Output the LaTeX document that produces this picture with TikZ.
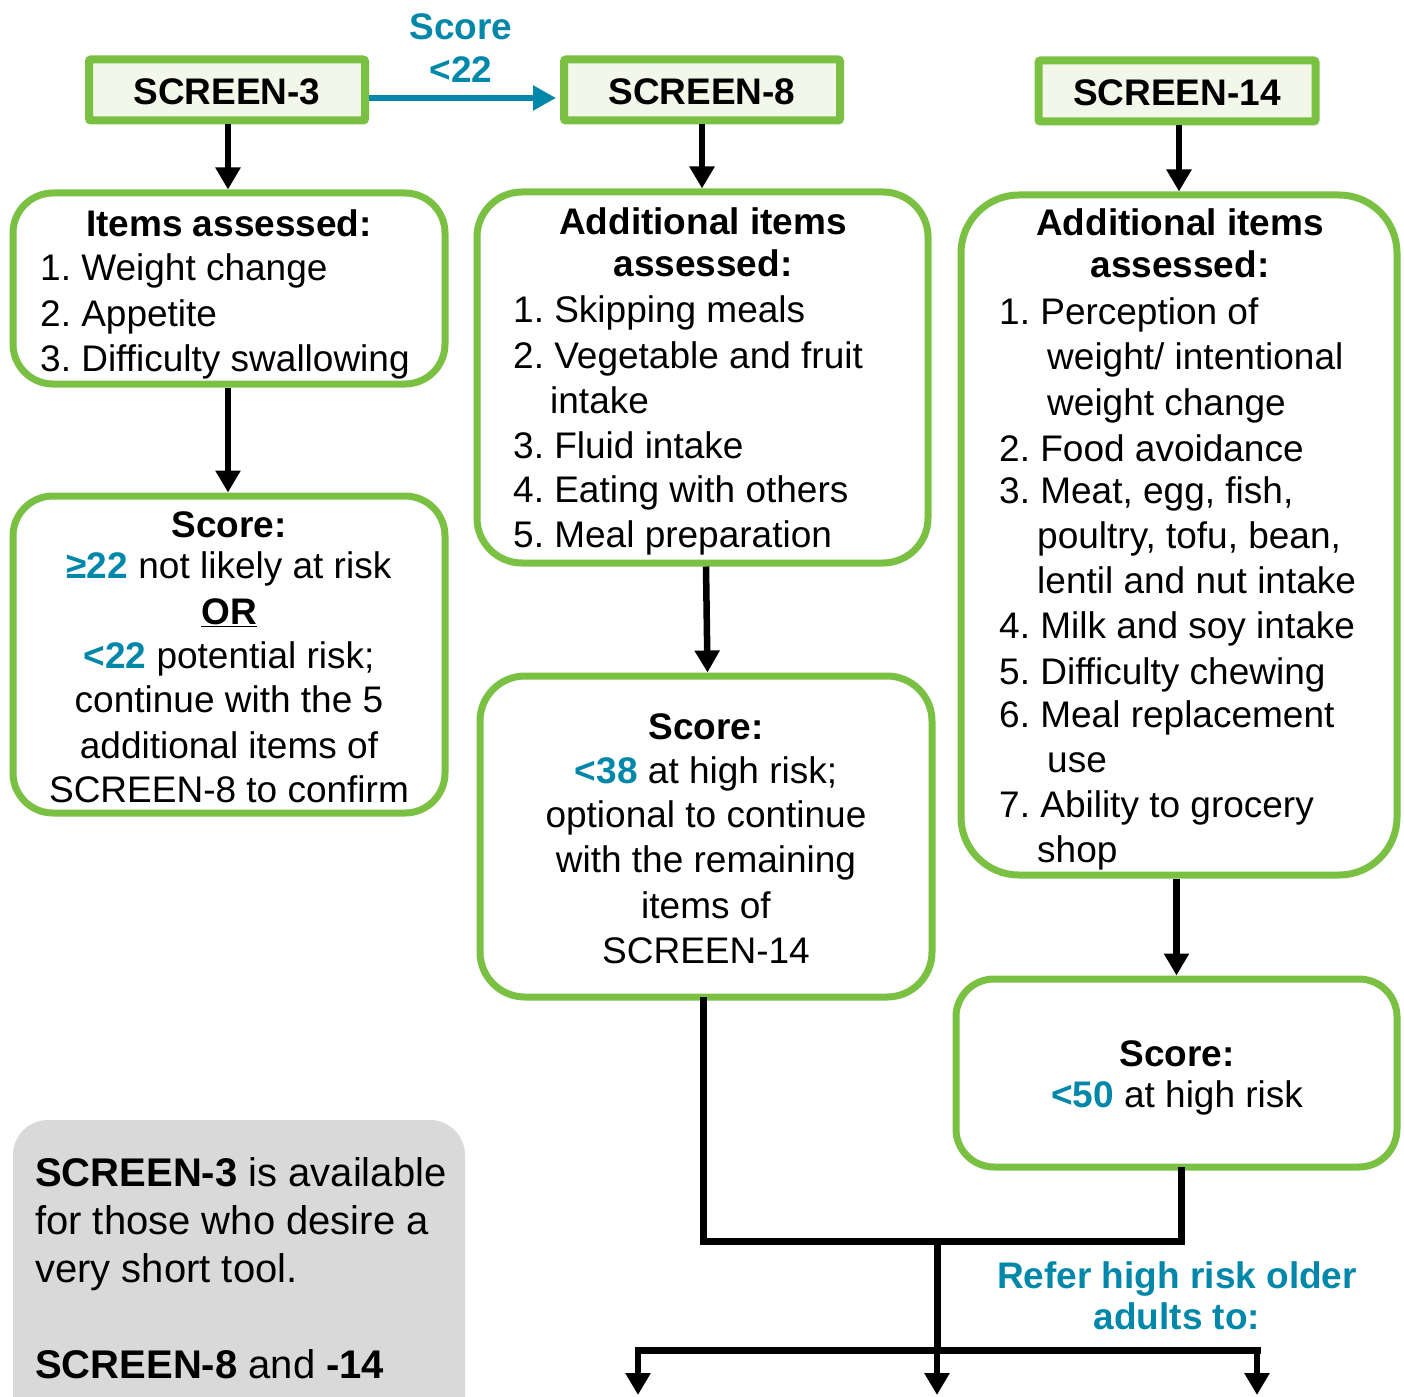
\documentclass[tikz,border=0pt]{standalone}
\usepackage{fontspec}
\setmainfont{Liberation Sans}
\usetikzlibrary{arrows.meta,calc}
\definecolor{gr}{HTML}{7AC143}
\definecolor{hdfill}{HTML}{F2F7EA}
\definecolor{sb}{HTML}{0087A9}
\definecolor{gy}{HTML}{D9D9D9}
\newcommand\fs{\fontsize{37}{44}\selectfont\frenchspacing}
\newcommand\fg{\fontsize{40}{48}\selectfont\frenchspacing}
\newcommand\bl[1]{\textcolor{sb}{\textbf{#1}}}
\begin{document}
\begin{tikzpicture}[x=1pt,y=-1pt,
  hdr/.style={draw=gr, fill=hdfill, line width=8pt, rounded corners=2pt, inner sep=0pt, font=\fs\bfseries, text height=30pt, text depth=0pt},
  box/.style={draw=gr, fill=white, line width=7pt, inner sep=0pt},
  tx/.style={inner sep=0pt, font=\fs},
  txl/.style={tx, anchor=base west},
  txc/.style={tx, anchor=base},
  arr/.style={line width=6.5pt, -{Triangle[width=24pt,length=22pt]}},
  blk/.style={line width=7pt, line join=miter, line cap=rect},
  barr/.style={draw=sb, line width=5.5pt, -{Triangle[width=24pt,length=23pt]}}]
\useasboundingbox (0,0) rectangle (1404,1396);
\clip (0,0) rectangle (1404,1396);

% header boxes
\node[hdr, minimum width=276pt, minimum height=61pt] (s3) at (227,90) {SCREEN-3};
\node[hdr, minimum width=276pt, minimum height=61pt] (s8) at (702,90) {SCREEN-8};
\node[hdr, minimum width=277pt, minimum height=61pt] (s14) at (1177,91) {SCREEN-14};

% rounded boxes
\node[box, rounded corners=40pt, minimum width=432pt, minimum height=191pt] (i3) at (229,288.5) {};
\node[box, rounded corners=40pt, minimum width=432pt, minimum height=317pt] (sc3) at (229,654.5) {};
\node[box, rounded corners=45pt, minimum width=451pt, minimum height=371pt] (i8) at (702.5,377.5) {};
\node[box, rounded corners=45pt, minimum width=452pt, minimum height=321pt] (sc8) at (706,836.5) {};
\node[box, rounded corners=58pt, minimum width=436pt, minimum height=680pt] (i14) at (1179,535) {};
\node[box, rounded corners=38pt, minimum width=441pt, minimum height=188pt] (sc14) at (1176.5,1073) {};

% note box
\node[fill=gy, rounded corners=35pt, inner sep=0pt, minimum width=452pt, minimum height=360pt] (note) at (239,1300) {};

% connectors
\draw[barr, shorten >=4pt] ($(s3.east)+(0,8)$) -- ($(s8.west)+(0,8)$);
\node[txc, text=sb, font=\fs\bfseries] (lblA) at (461,40) {Score};
\node[txc, text=sb, font=\fs\bfseries] (lblB) at (461,83) {<22};

\draw[arr] ($(s3.south)+(1,0)$) -- ($(s3.south |- i3.north)+(1,0)$);
\draw[arr] ($(i3.south)+(-1,0)$) -- ($(sc3.north)+(-1,0)$);
\draw[arr] (s8.south) -- (s8.south |- i8.north);
\draw[arr] (sc8.north |- i8.south) -- ($(sc8.north)+(1.5,0)$);
\draw[arr] (i14.north |- s14.south) -- (i14.north);
\draw[arr] (sc14.north |- i14.south) -- (sc14.north);

\coordinate (j1) at (703,1241);
\coordinate (j2) at (1181,1241);
\coordinate (jm) at (937,1241);
\coordinate (hb) at (937,1350);
\coordinate (hl) at (638,1350);
\coordinate (hr) at (1257,1350);
\coordinate (e1) at (638,1395);
\coordinate (e2) at (937,1395);
\coordinate (e3) at (1257,1395);
\draw[blk] (sc8.south -| j1) -- (j1) -- (j2) -- (sc14.south -| j2);
\draw[blk] (jm) -- (hb);
\draw[blk] (hl) -- (hr);
\draw[arr] (hl) -- (e1);
\draw[arr] (hb) -- (e2);
\draw[arr] (hr) -- (e3);

\node[txc, text=sb, font=\fs\bfseries] (ref1) at (1177,1288) {Refer high risk older};
\node[txc, text=sb, font=\fs\bfseries] (ref2) at (1177,1329) {adults to:};

% left items
\node[txc, font=\fs\bfseries] (a0) at (229,237) {Items assessed:};
\node[txl] (a1) at (40,280) {1. Weight change};
\node[txl] (a2) at (40,326) {2. Appetite};
\node[txl] (a3) at (40,371) {3. Difficulty swallowing};

% left score
\node[txc, font=\fs\bfseries] (b0) at (229,537) {Score:};
\node[txc] (b1) at (229,578) {\bl{≥22} not likely at risk};
\node[txc, font=\fs\bfseries] (b2) at (229,624) {\underline{OR}};
\node[txc] (b3) at (229,668) {\bl{<22} potential risk;};
\node[txc] (b4) at (229,712) {continue with the 5};
\node[txc] (b5) at (229,758) {additional items of};
\node[txc] (b6) at (229,802) {SCREEN-8 to confirm};

% middle items
\node[txc, font=\fs\bfseries] (c0) at (703,235) {Additional items};
\node[txc, font=\fs\bfseries] (c0b) at (703,277) {assessed:};
\node[txl] (c1) at (513,323) {1. Skipping meals};
\node[txl] (c2) at (513,368) {2. Vegetable and fruit};
\node[txl] (c2b) at (550,413) {intake};
\node[txl] (c3) at (513,458) {3. Fluid intake};
\node[txl] (c4) at (513,502) {4. Eating with others};
\node[txl] (c5) at (513,547) {5. Meal preparation};

% middle score
\node[txc, font=\fs\bfseries] (d0) at (706,739) {Score:};
\node[txc] (d1) at (706,783) {\bl{<38} at high risk;};
\node[txc] (d2) at (706,827) {optional to continue};
\node[txc] (d3) at (706,872) {with the remaining};
\node[txc] (d4) at (706,918) {items of};
\node[txc] (d5) at (706,963) {SCREEN-14};

% right items
\node[txc, font=\fs\bfseries] (e0) at (1180,236) {Additional items};
\node[txc, font=\fs\bfseries] (e0b) at (1180,278) {assessed:};
\node[txl] (f1) at (999,324) {1. Perception of};
\node[txl] (f1b) at (1047,369) {weight/ intentional};
\node[txl] (f1c) at (1047,415) {weight change};
\node[txl] (f2) at (999,461) {2. Food avoidance};
\node[txl] (f3) at (999,503) {3. Meat, egg, fish,};
\node[txl] (f3b) at (1037,548) {poultry, tofu, bean,};
\node[txl] (f3c) at (1037,593) {lentil and nut intake};
\node[txl] (f4) at (999,638) {4. Milk and soy intake};
\node[txl] (f5) at (999,684) {5. Difficulty chewing};
\node[txl] (f6) at (999,727) {6. Meal replacement};
\node[txl] (f6b) at (1047,772) {use};
\node[txl] (f7) at (999,817) {7. Ability to grocery};
\node[txl] (f7b) at (1037,862) {shop};

% right score
\node[txc, font=\fs\bfseries] (g0) at (1177,1066) {Score:};
\node[txc] (g1) at (1177,1107) {\bl{<50} at high risk};

% note text
\node[inner sep=0pt, anchor=base west, font=\fg] (n1) at (35,1186) {\textbf{SCREEN-3} is available};
\node[inner sep=0pt, anchor=base west, font=\fg] (n2) at (35,1234) {for those who desire a};
\node[inner sep=0pt, anchor=base west, font=\fg] (n3) at (35,1282) {very short tool.};
\node[inner sep=0pt, anchor=base west, font=\fg] (n4) at (35,1378) {\textbf{SCREEN-8} and \textbf{-14}};
\end{tikzpicture}
\end{document}
